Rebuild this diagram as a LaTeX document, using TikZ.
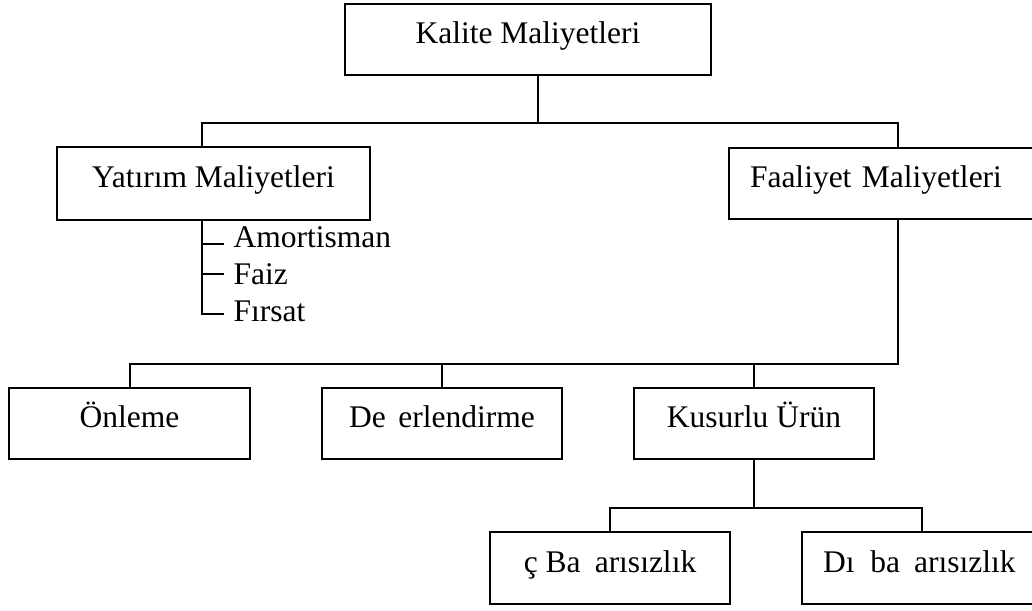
\documentclass[tikz,border=0pt]{standalone}
\usepackage{fontspec}
\setmainfont{Liberation Serif}
\begin{document}
\begin{tikzpicture}[x=1pt,y=-1pt,
  line width=1.4pt,
  txt/.style={font=\fontsize{31.5}{38}\selectfont, inner sep=0pt},
  box/.style={txt, draw, rectangle, minimum height=72pt,
    text height=24pt, text depth=16pt},
  leftbox/.style={box, align=left, inner xsep=21pt}
]
\useasboundingbox (0,0) rectangle (1032,610);
\clip (0,0) rectangle (1032,610);

% boxes
\node[box, minimum width=366pt, minimum height=71pt] (kalite) at (528,39.5) {Kalite Maliyetleri};
\node[box, minimum width=313pt, minimum height=73pt] (yatirim) at (213.5,183.5) {Yatırım Maliyetleri};
\node[leftbox, minimum width=311pt, text width=269pt, minimum height=71pt] (faaliyet) at (884.5,183.5) {Faaliyet Maliyetleri};
\node[box, minimum width=241pt, minimum height=71pt] (onleme) at (129.5,423.5) {Önleme};
\node[box, minimum width=240pt, minimum height=71pt] (deger) at (442,423.5) {De\hspace{0.4em}erlendirme};
\node[box, minimum width=240pt, minimum height=71pt] (kusurlu) at (754,423.5) {Kusurlu Ürün};
\node[box, minimum width=240pt] (ic) at (610,568) {ç Ba\hspace{0.45em}arısızlık};
\node[leftbox, minimum width=248pt, text width=206pt] (dis) at (926,568) {Dı\hspace{0.5em}ba\hspace{0.45em}arısızlık};

% investment cost items
\node[txt, anchor=base west] (amort) at (233,247) {Amortisman};
\node[txt, anchor=base west] (faiz) at (233,284) {Faiz};
\node[txt, anchor=base west] (firsat) at (233,321) {Fırsat};

% bus junctions
\coordinate (kb) at (538,123);
\coordinate (yb) at (202,123);
\coordinate (fb) at (898,123);
\coordinate (b2l) at (130,364);
\coordinate (b2r) at (898,364);
\coordinate (b3l) at (610,508);
\coordinate (b3r) at (922,508);

% top level
\draw (kalite.south -| kb) -- (kb);
\draw (yatirim.north -| yb) -- (yb) -- (fb) -- (faaliyet.north -| fb);

% item ticks under the investment box
\coordinate (t1) at ([shift={(-9pt,3pt)}]amort.base west);
\coordinate (t2) at ([shift={(-9pt,10pt)}]faiz.base west);
\coordinate (t3) at ([shift={(-9pt,7pt)}]firsat.base west);
\draw (yatirim.south -| yb) -- (t3 -| yb) -- (t3);
\draw (t1 -| yb) -- (t1);
\draw (t2 -| yb) -- (t2);

% operating cost branches
\draw (faaliyet.south -| b2r) -- (b2r) -- (b2l) -- (onleme.north -| b2l);
\draw (deger.north) -- (deger.north |- b2l);
\draw (kusurlu.north) -- (kusurlu.north |- b2l);

% defective product branches
\draw (kusurlu.south) -- (kusurlu.south |- b3l);
\draw (ic.north -| b3l) -- (b3l) -- (b3r) -- (dis.north -| b3r);
\end{tikzpicture}
\end{document}
